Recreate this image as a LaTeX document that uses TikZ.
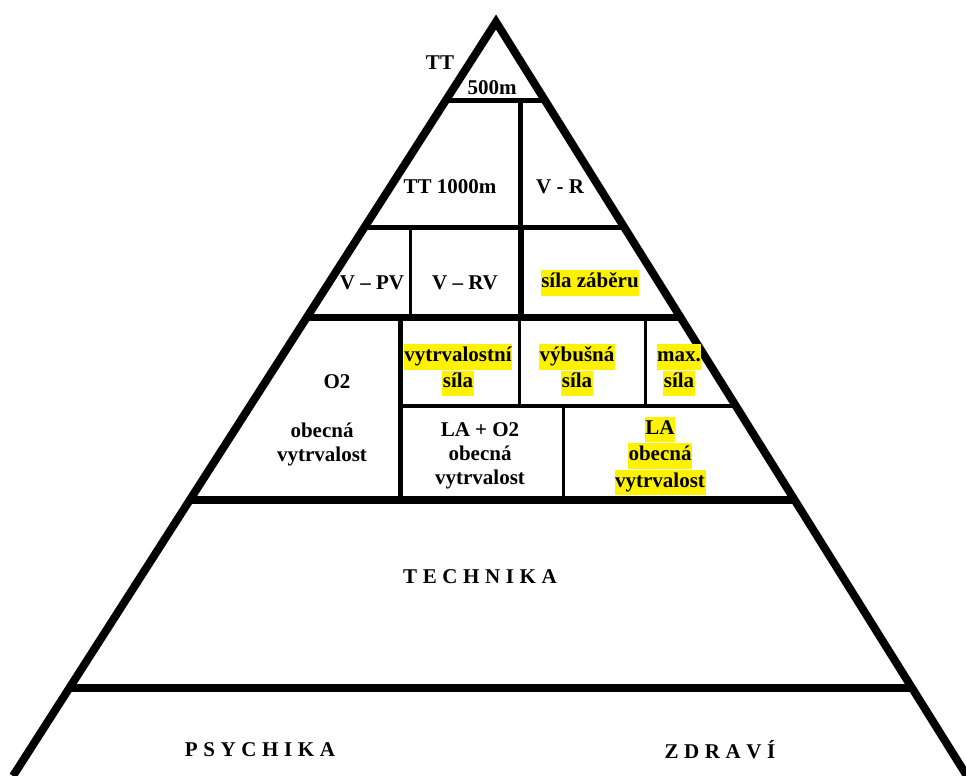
\documentclass[tikz,border=0pt]{standalone}
\usepackage{fontspec}
\setmainfont{Liberation Serif}
\usepackage{xcolor}
\usepackage{tikz}

\newcommand{\hl}[1]{{\setlength{\fboxsep}{0.6pt}\colorbox{yellow}{\strut #1}}}
\newcommand{\widesp}{\spaceskip=5.6pt plus 0pt minus 0pt\relax}

\tikzset{
    lbl/.style={font=\bfseries\fontsize{21}{24}\selectfont, align=center, inner sep=0pt},
    spacedlbl/.style={font={\bfseries\fontsize{21}{24}\selectfont}, inner sep=0pt},
}

\begin{document}
\begin{tikzpicture}[x=1pt, y=-1pt]
        \useasboundingbox (0,0) rectangle (966,776);
        
        \coordinate (apex) at (496,22);
        \coordinate (bl) at (13,776);
        \coordinate (br) at (967,776);
        
        % inner partitions
        \begin{scope}
        \clip (apex) -- (bl) -- (br) -- cycle;
        \foreach \y/\w in {100/5, 227/5, 317/7, 500/8, 688/8}
        \draw[line width=\w pt] (0,\y) -- (966,\y);
        \draw[line width=4pt] (400,406) -- (966,406);
        \end{scope}
        
        \foreach \x/\ya/\yb/\w in {520/100/227/5, 521/227/317/6, 410/227/317/3, 400/317/500/5, 519/317/406/3, 645/317/406/3, 563/406/500/3}
        \draw[line width=\w pt] (\x,\ya) -- (\x,\yb);
        
        \draw[line width=8pt, line join=miter] (bl) -- (apex) -- (br);
        
        \node[lbl] (tt) at (440,63) {TT};
        \node[lbl] (tt500) at (492,88) {500m};
        \node[lbl] (tt1000) at (450,187) {TT 1000m};
        \node[lbl] (vr) at (560,187) {V - R};
        \node[lbl] (vpv) at (372,283) {V -- PV};
        \node[lbl] (vrv) at (465,283) {V -- RV};
        \node[lbl] (zaber) at (590,283) {\hl{síla záběru}};
        
        \node[lbl] (vytrsila) at (458,370) {\hl{vytrvalostní}\\\hl{síla}};
        \node[lbl] (vybsila) at (577,370) {\hl{výbušná}\\\hl{síla}};
        \node[lbl] (maxsila) at (679,370) {\hl{max.}\\\hl{síla}};
        
        \node[lbl] (o2) at (337,382) {O2};
        \node[lbl] (o2obec) at (322,444) {obecná\\vytrvalost};
        \node[lbl] (laotwo) at (480,456) {LA + O2\\obecná\\vytrvalost};
        \node[lbl] (la) at (660,456) {\hl{LA}\\\hl{obecná}\\\hl{vytrvalost}};
        
        \node[spacedlbl] (technika) at (480,577) {\widesp T E C H N I K A};
        \node[spacedlbl] (psychika) at (260,750) {\widesp P S Y C H I K A};
        \node[spacedlbl] (zdravi) at (720,750) {\widesp Z D R A V Í};
        
    \end{tikzpicture}
\end{document}
